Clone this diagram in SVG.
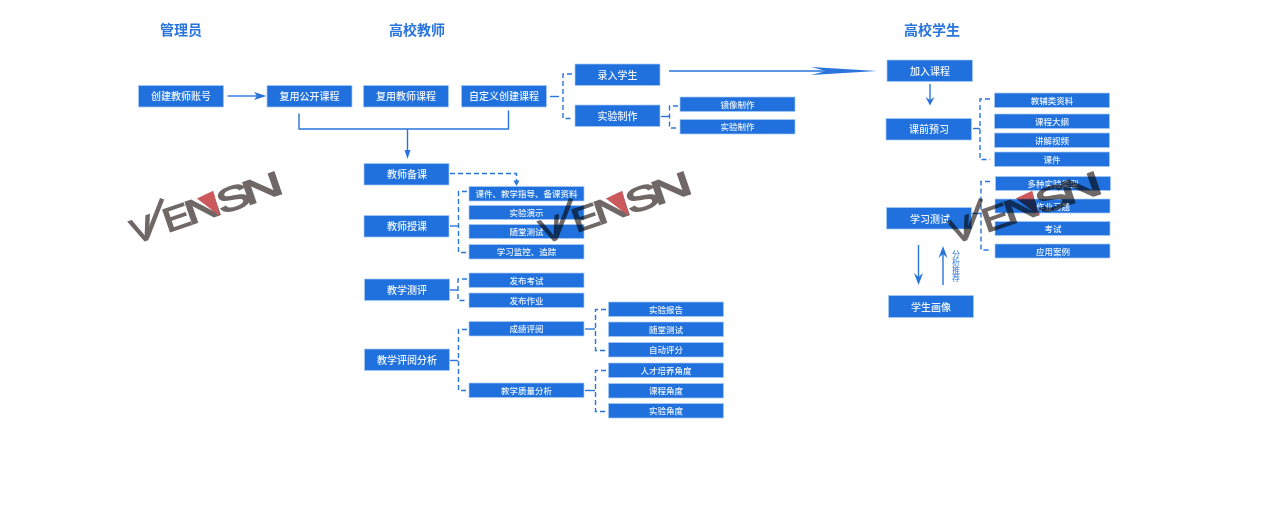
<svg xmlns="http://www.w3.org/2000/svg" width="1264" height="517" viewBox="0 0 1264 517">
<style>
text{font-family:"Noto Sans CJK SC","Liberation Sans",sans-serif;text-anchor:middle}
.t{font-size:14px;font-weight:700;fill:#2a75dc}
.b{fill:#2071dd;stroke:#a9ccf5;stroke-width:.7}
.m{font-size:10px;font-weight:500;fill:#eef5fd}
.s{font-size:8.5px;font-weight:500;fill:#e6f0fc}
.v{font-size:8px;fill:#2a75dc;writing-mode:vertical-rl;text-anchor:start}
.c{fill:none;stroke:#2a75dc;stroke-width:1.4}
.d{fill:none;stroke:#2a75dc;stroke-width:1.4;stroke-dasharray:5 3}
.a{fill:#2a75dc;stroke:none}
.w{font-family:"Liberation Sans",sans-serif;font-size:33.500px;fill:#6f6866;stroke:#6f6866;stroke-width:1.4;text-anchor:start}
.wm{mix-blend-mode:multiply}
</style>
<defs>
<g id="wm">
<text class="w" transform="translate(-11.500 0)">V</text>
<path d="M1-2L28-34" fill="none" stroke="#6f6866" stroke-width="4.500"/>
<text class="w" transform="translate(22 0) scale(1.2 1)">E</text>
<text class="w" transform="translate(45 0) scale(1.5 1)">N</text>
<text class="w" transform="translate(78.500 0) scale(1.5 1)">S</text>
<text class="w" transform="translate(105.500 0) scale(1.7 1)">N</text>
<path d="M61-23L79-25L77 1Z" fill="#cc5a5c"/>
</g>
</defs>
<g id="titles">
<text class="t" x="181" y="35">管理员</text>
<text class="t" x="417" y="35">高校教师</text>
<text class="t" x="932" y="35">高校学生</text>
</g>
<g id="connectors">
<path class="c" d="M227.500 96H258"/><path class="a" d="M254 92L266.500 96L254 100L257 96Z"/>
<path class="c" d="M299 113.500V129H508.500V110.500M407.500 129V152"/><path class="a" d="M404.500 150H410.500L407.500 159Z"/>
<path class="c" d="M669 71H830"/><path class="a" d="M811 67L877 71L811 75L826 71Z"/>
<path class="c" d="M550 96.500H559"/><path class="d" d="M572 74H563V118.500H572"/>
<path class="c" d="M661 116.500H669"/><path class="d" d="M678 106H669.500V128H678"/>
<path class="d" d="M450 173.500H516.500V181"/><path class="a" d="M513.500 180.500H519.500L516.500 186Z"/>
<path class="c" d="M450 226H458"/><path class="d" d="M467 191.500H458.500V252.500H467"/>
<path class="c" d="M450 290H458"/><path class="d" d="M467 279H458V300.500H467"/>
<path class="c" d="M450 360.500H458"/><path class="d" d="M467 329.500H458.500V390.500H467"/>
<path class="c" d="M585 329H595"/><path class="d" d="M606 309.500H595.500V350.500H606"/>
<path class="c" d="M585 390.500H595"/><path class="d" d="M606 370.500H595.500V411.500H606"/>
<path class="c" d="M930 84V100"/><path class="a" d="M925.500 97L930 100L934.500 97L930 105.500Z"/>
<path class="c" d="M973 128.500H980"/><path class="d" d="M990 99H980V159.500H990"/>
<path class="c" d="M972 213.500H981"/><path class="d" d="M990 181.500H981V250H990"/>
<path class="c" d="M918.500 245V280"/><path class="a" d="M914 273L918.500 277L923 273L918.500 285Z"/>
<path class="c" d="M943 285V252"/><path class="a" d="M938.500 258L943 254L947.500 258L943 246Z"/>
</g>
<g id="n1"><rect class="b" x="138.500" y="85.500" width="85" height="21.500"/><text class="m" x="181" y="100">创建教师账号</text></g>
<g id="n2"><rect class="b" x="267" y="85.500" width="85" height="21.500"/><text class="m" x="309.500" y="100">复用公开课程</text></g>
<g id="n3"><rect class="b" x="363.500" y="85.500" width="85" height="21.500"/><text class="m" x="406" y="100">复用教师课程</text></g>
<g id="n4"><rect class="b" x="461.500" y="85.500" width="85" height="21.500"/><text class="m" x="504" y="100">自定义创建课程</text></g>
<g id="n5"><rect class="b" x="575" y="64" width="85" height="21.500"/><text class="m" x="617.500" y="78.500">录入学生</text></g>
<g id="n6"><rect class="b" x="575" y="105" width="85" height="21.500"/><text class="m" x="617.500" y="119.500">实验制作</text></g>
<g id="n7"><rect class="b" x="680" y="97" width="115" height="14.500"/><text class="s" x="737.500" y="107.500">镜像制作</text></g>
<g id="n8"><rect class="b" x="680" y="119.500" width="115" height="14.500"/><text class="s" x="737.500" y="130">实验制作</text></g>
<g id="n9"><rect class="b" x="887" y="60" width="85.500" height="21.500"/><text class="m" x="930" y="74.500">加入课程</text></g>
<g id="n10"><rect class="b" x="886" y="118.500" width="85.500" height="21.500"/><text class="m" x="929" y="133">课前预习</text></g>
<g id="n11"><rect class="b" x="994.500" y="93" width="115" height="14.500"/><text class="s" x="1052" y="103.500">教辅类资料</text></g>
<g id="n12"><rect class="b" x="994.500" y="114" width="115" height="14.500"/><text class="s" x="1052" y="124.500">课程大纲</text></g>
<g id="n13"><rect class="b" x="994.500" y="133" width="115" height="14.500"/><text class="s" x="1052" y="143.500">讲解视频</text></g>
<g id="n14"><rect class="b" x="994.500" y="152" width="115" height="14.500"/><text class="s" x="1052" y="162.500">课件</text></g>
<g id="n15"><rect class="b" x="886.500" y="207.500" width="85" height="21.500"/><text class="m" x="930" y="222.500">学习测试</text></g>
<g id="n16"><rect class="b" x="995.500" y="176.500" width="115" height="14"/><text class="s" x="1053" y="187">多种实验类型</text></g>
<g id="n17"><rect class="b" x="995" y="199" width="115" height="14"/><text class="s" x="1053" y="209.500">作业习题</text></g>
<g id="n18"><rect class="b" x="995" y="221.500" width="115" height="14"/><text class="s" x="1053" y="232">考试</text></g>
<g id="n19"><rect class="b" x="995" y="244" width="115" height="14"/><text class="s" x="1053" y="254.500">应用案例</text></g>
<g id="n20"><rect class="b" x="888.500" y="295.500" width="85" height="22"/><text class="m" x="931" y="310.500">学生画像</text></g>
<g id="n21"><rect class="b" x="364" y="163.500" width="85" height="21.500"/><text class="m" x="407" y="178">教师备课</text></g>
<g id="n22"><rect class="b" x="364" y="215.500" width="85" height="21.500"/><text class="m" x="407" y="230">教师授课</text></g>
<g id="n23"><rect class="b" x="469" y="186.500" width="115" height="14.500"/><text class="s" x="526.500" y="197">课件、教学指导、备课资料</text></g>
<g id="n24"><rect class="b" x="469" y="205.500" width="115" height="14"/><text class="s" x="526.500" y="216">实验演示</text></g>
<g id="n25"><rect class="b" x="469" y="224.500" width="115" height="14"/><text class="s" x="526.500" y="235">随堂测试</text></g>
<g id="n26"><rect class="b" x="469" y="244.500" width="115" height="14.500"/><text class="s" x="526.500" y="255">学习监控、追踪</text></g>
<g id="n27"><rect class="b" x="364.500" y="279" width="85" height="21.500"/><text class="m" x="407" y="293.500">教学测评</text></g>
<g id="n28"><rect class="b" x="469" y="273" width="115" height="14.500"/><text class="s" x="526.500" y="283.500">发布考试</text></g>
<g id="n29"><rect class="b" x="469" y="293" width="115" height="14.500"/><text class="s" x="526.500" y="303.500">发布作业</text></g>
<g id="n30"><rect class="b" x="364.500" y="349" width="85" height="21.500"/><text class="m" x="407" y="363.500">教学评阅分析</text></g>
<g id="n31"><rect class="b" x="469" y="321.500" width="115" height="14.500"/><text class="s" x="526.500" y="332">成绩评阅</text></g>
<g id="n32"><rect class="b" x="469" y="383" width="115" height="14.500"/><text class="s" x="526.500" y="393.500">教学质量分析</text></g>
<g id="n33"><rect class="b" x="608.500" y="302" width="115" height="14.500"/><text class="s" x="666" y="312.500">实验报告</text></g>
<g id="n34"><rect class="b" x="608.500" y="322" width="115" height="14.500"/><text class="s" x="666" y="332.500">随堂测试</text></g>
<g id="n35"><rect class="b" x="608.500" y="342.500" width="115" height="14.500"/><text class="s" x="666" y="353">自动评分</text></g>
<g id="n36"><rect class="b" x="608.500" y="363" width="115" height="14.500"/><text class="s" x="666" y="373.500">人才培养角度</text></g>
<g id="n37"><rect class="b" x="608.500" y="383.500" width="115" height="14.500"/><text class="s" x="666" y="394">课程角度</text></g>
<g id="n38"><rect class="b" x="608.500" y="403.500" width="115" height="14.500"/><text class="s" x="666" y="414">实验角度</text></g>
<g id="label-fx"><text class="v" x="956" y="250">分析推荐</text></g>
<g id="watermarks">
<use class="wm" href="#wm" transform="translate(146.700 240) rotate(-19)"/>
<use class="wm" href="#wm" transform="translate(555.700 240) rotate(-19)"/>
<use class="wm" href="#wm" transform="translate(965.700 240) rotate(-19)"/>
</g>
</svg>
